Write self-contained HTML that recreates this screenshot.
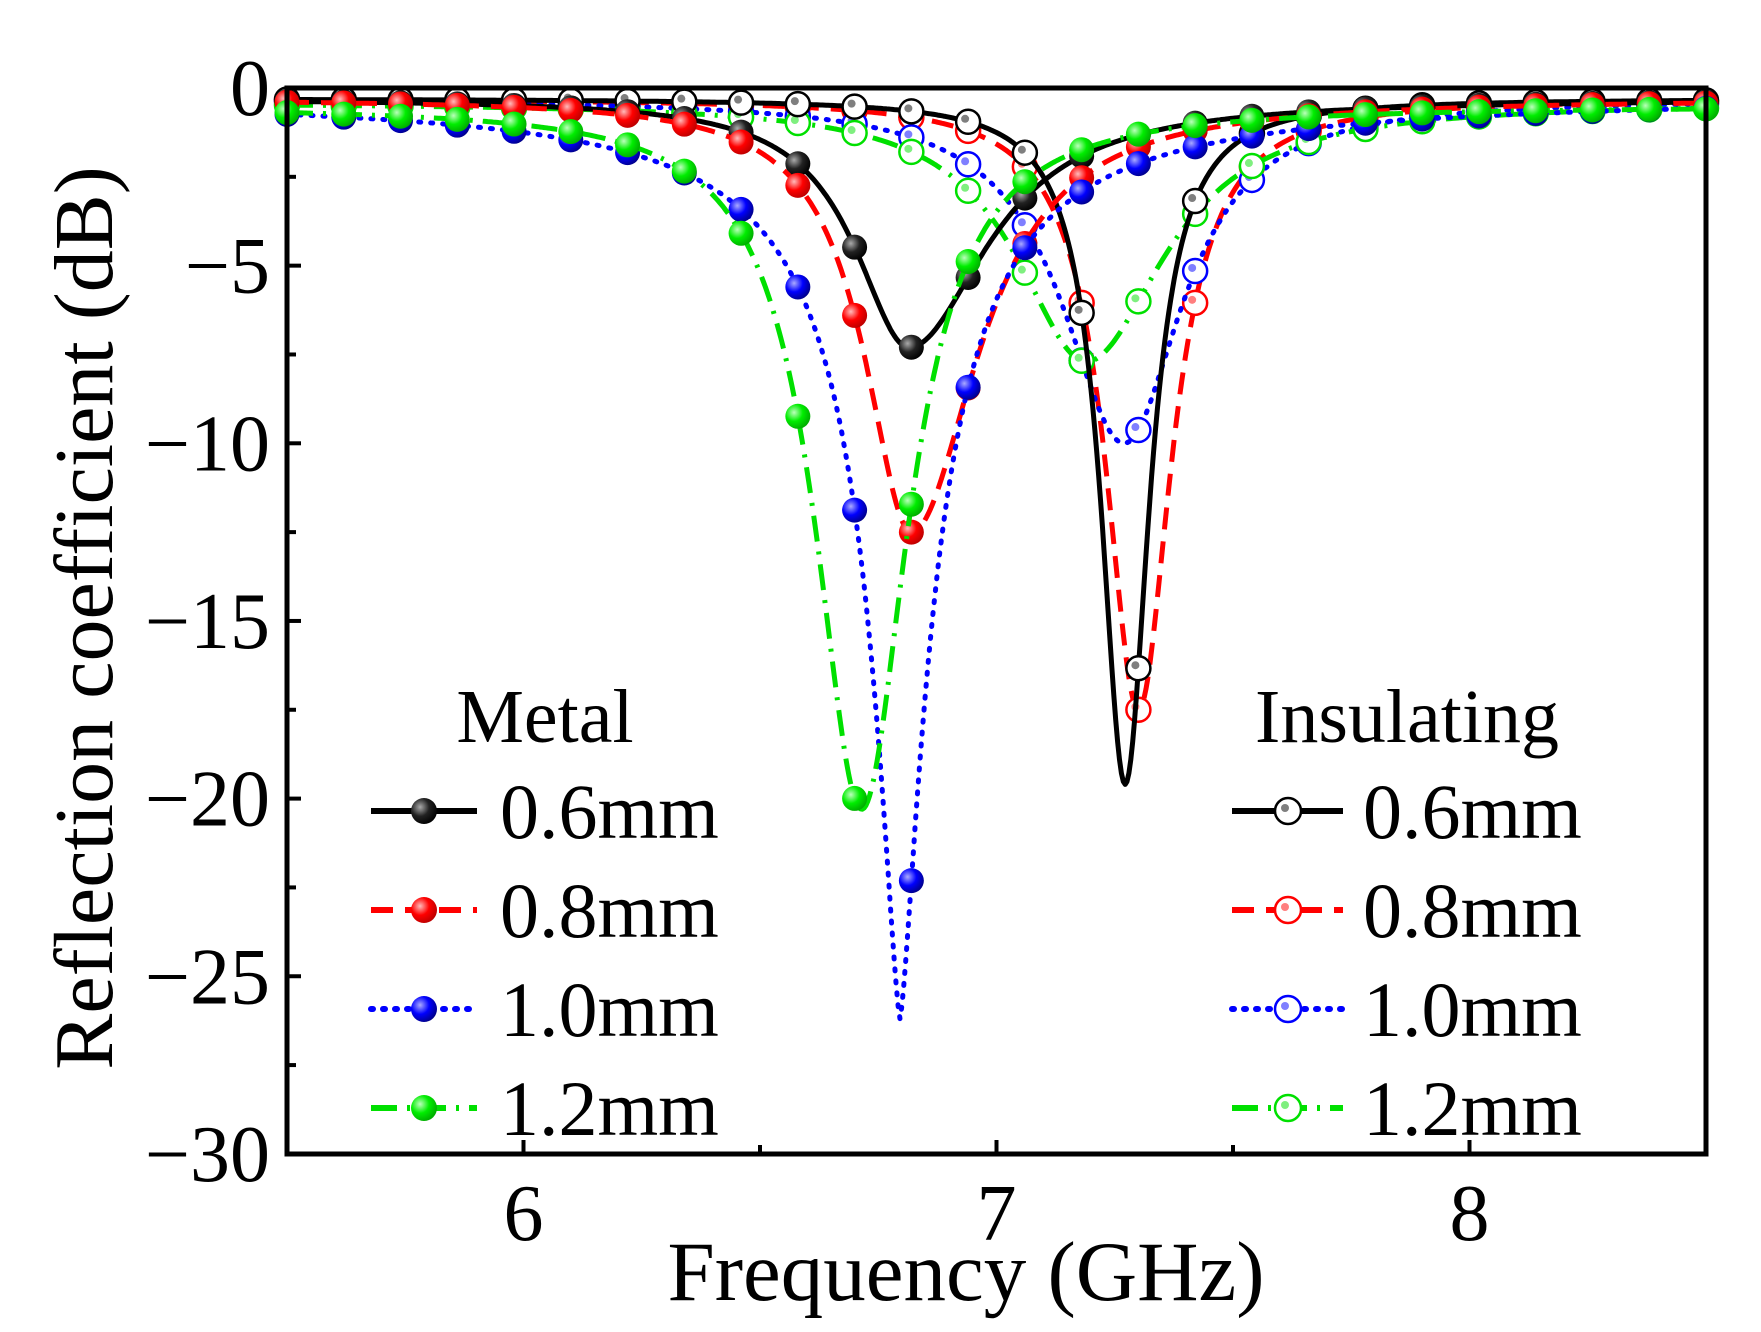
<!DOCTYPE html>
<html><head><meta charset="utf-8"><style>
html,body{margin:0;padding:0;background:#fff;}
svg{display:block;}
text{font-family:"Liberation Serif",serif;fill:#000;}
</style></head><body>
<svg id="s" width="1761" height="1332" viewBox="0 0 1761 1332" xmlns="http://www.w3.org/2000/svg">
<defs>
<radialGradient id="gk" cx="0.35" cy="0.35" r="0.7"><stop offset="0" stop-color="#aaa"/><stop offset="0.5" stop-color="#222"/><stop offset="1" stop-color="#000"/></radialGradient>
<radialGradient id="gr" cx="0.35" cy="0.35" r="0.7"><stop offset="0" stop-color="#fbb"/><stop offset="0.5" stop-color="#f00"/><stop offset="1" stop-color="#b00"/></radialGradient>
<radialGradient id="gb" cx="0.35" cy="0.35" r="0.7"><stop offset="0" stop-color="#aaf"/><stop offset="0.5" stop-color="#00f"/><stop offset="1" stop-color="#008"/></radialGradient>
<radialGradient id="gg" cx="0.35" cy="0.35" r="0.7"><stop offset="0" stop-color="#bfb"/><stop offset="0.5" stop-color="#0e0"/><stop offset="1" stop-color="#0a0"/></radialGradient>
</defs>
<g id="plot"></g>
<g id="axes"></g>
</svg>
<script>
var NS="http://www.w3.org/2000/svg";
function X(f){return 287+(f-5.5)*473;}
function Y(d){return 88+(-d)*35.53;}
function el(t,a,p){var e=document.createElementNS(NS,t);for(var k in a)e.setAttribute(k,a[k]);(p||document.getElementById('plot')).appendChild(e);return e;}
var series=[
 {f0:7.30,D:-17.2,wl:.085,wr:.085,b:-0.3,c:"#ff0000",g:"gr",dash:"22 12",hollow:1},
 {f0:7.27,D:-9.7,wl:.16,wr:.15,b:-0.3,c:"#0000ff",g:"gb",dash:"2 10",hollow:1,cap:"round"},
 {f0:7.19,D:-7.3,wl:.18,wr:.2,b:-0.4,c:"#00e000",g:"gg",dash:"26 10 3 10",hollow:1},
 {f0:7.272,D:-19.3,wl:.062,wr:.062,b:-0.3,c:"#000000",g:"gk",dash:"",hollow:1},
 {f0:6.815,D:-7.0,wl:.14,wr:.2,b:-0.3,c:"#000000",g:"gk",dash:""},
 {f0:6.82,D:-12.2,wl:.12,wr:.17,b:-0.3,c:"#ff0000",g:"gr",dash:"22 12"},
 {f0:6.796,D:-26,wl:.083,wr:.083,p:1.4,b:-0.2,c:"#0000ff",g:"gb",dash:"2 10",cap:"round"},
 {f0:6.715,D:-19.8,wl:.12,wr:.12,b:-0.5,c:"#00e000",g:"gg",dash:"26 10 3 10"}
];
function val(s,f){var w=f<s.f0?s.wl:s.wr;var u=Math.abs((f-s.f0)/w);var p=s.p||2;return s.b+s.D/(1+Math.pow(u,p));}
series.forEach(function(s){
 var pts=[];for(var f=5.5;f<=8.5001;f+=0.004){pts.push(X(f).toFixed(1)+","+Y(val(s,f)).toFixed(1));}
 var a={points:pts.join(" "),fill:"none",stroke:s.c,"stroke-width":5,"stroke-linejoin":"round"};
 if(s.dash)a["stroke-dasharray"]=s.dash; if(s.cap)a["stroke-linecap"]=s.cap;
 el("polyline",a);
 for(var k=0;k<=25;k++){var f=5.5+0.12*k;var x=X(f),y=Y(val(s,f));
  if(s.hollow){el("circle",{cx:x,cy:y,r:12,fill:"#fff",stroke:s.c,"stroke-width":2.5});el("circle",{cx:x-3,cy:y-3,r:4,fill:s.c,opacity:.5});}
  else el("circle",{cx:x,cy:y,r:12.5,fill:"url(#"+s.g+")"});}
});
var ax=document.getElementById('axes');
el("rect",{x:287,y:88,width:1419,height:1066,fill:"none",stroke:"#000","stroke-width":5},ax);
for(var d=0;d>=-30;d-=2.5){var y=Y(d);var L=(d%5===0)?14:9;el("line",{x1:287,y1:y,x2:287+L,y2:y,stroke:"#000","stroke-width":4},ax);
 if(d%5===0){var t=el("text",{x:270,y:y+27,"font-size":80,"text-anchor":"end"},ax);t.textContent=(d===0?"0":"\u2212"+(-d));}}
for(var f=5.5;f<=8.5001;f+=0.5){var x=X(f);var maj=Math.abs(f-Math.round(f))<0.01;el("line",{x1:x,y1:1154,x2:x,y2:1154-(maj?14:9),stroke:"#000","stroke-width":4},ax);
 if(maj){var t=el("text",{x:x,y:1240,"font-size":80,"text-anchor":"middle"},ax);t.textContent=Math.round(f);}}
var t=el("text",{x:966,y:1300,"font-size":85,"text-anchor":"middle"},ax);t.textContent="Frequency (GHz)";
t=el("text",{x:0,y:0,"font-size":84,"text-anchor":"middle",transform:"translate(112,618) rotate(-90)"},ax);t.textContent="Reflection coefficient (dB)";
t=el("text",{x:545,y:742,"font-size":76,"text-anchor":"middle"},ax);t.textContent="Metal";
t=el("text",{x:1407,y:742,"font-size":76,"text-anchor":"middle"},ax);t.textContent="Insulating";
var leg=[["#000","gk",""],["#ff0000","gr","22 12"],["#0000ff","gb","2 10"],["#00e000","gg","26 10 3 10"]];
var labs=["0.6mm","0.8mm","1.0mm","1.2mm"];var rows=[811,910,1009,1108];
leg.forEach(function(l,i){var y=rows[i];
 var a={x1:371,y1:y,x2:477,y2:y,stroke:l[0],"stroke-width":6};if(l[2])a["stroke-dasharray"]=l[2];if(i==2)a["stroke-linecap"]="round";el("line",a,ax);
 el("circle",{cx:424,cy:y,r:13,fill:"url(#"+l[1]+")"},ax);
 var t=el("text",{x:500,y:y+27,"font-size":78},ax);t.textContent=labs[i];
 var b={x1:1232,y1:y,x2:1343,y2:y,stroke:l[0],"stroke-width":6};if(l[2])b["stroke-dasharray"]=l[2];if(i==2)b["stroke-linecap"]="round";el("line",b,ax);
 el("circle",{cx:1288,cy:y,r:13,fill:"#fff",stroke:l[0],"stroke-width":2.5},ax);
 el("circle",{cx:1285,cy:y-3,r:4,fill:l[0],opacity:.5},ax);
 t=el("text",{x:1363,y:y+27,"font-size":78},ax);t.textContent=labs[i];
});
</script>
</body></html>
